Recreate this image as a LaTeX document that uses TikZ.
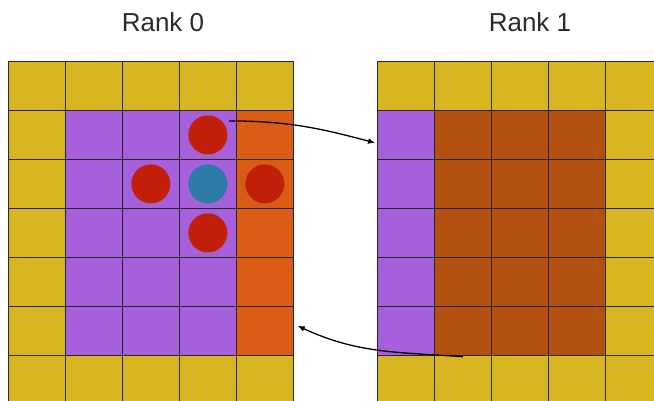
\documentclass[tikz,border=0pt]{standalone}
\usepackage{fontspec}
\setmainfont{Liberation Sans}
\usepackage{xcolor}
\usetikzlibrary{arrows.meta,shadows}

\definecolor{gold}{HTML}{D7B621}
\definecolor{lilac}{HTML}{A660DC}
\definecolor{flame}{HTML}{DA5C14}
\definecolor{rust}{HTML}{B4500F}
\definecolor{ballred}{HTML}{C11F0A}
\definecolor{ballblue}{HTML}{2E7BAA}
\definecolor{inkgray}{HTML}{2B2B2B}

\begin{document}
\begin{tikzpicture}[
    x=1pt, y=-1pt,
    cell/.style={draw=black!85, line width=0.7pt, anchor=north west, inner sep=0pt,
                 minimum width=57pt, minimum height=49pt},
    ball/.style={circle, inner sep=0pt, minimum size=39pt, fill=ballred,
                 drop shadow={shadow xshift=0pt, shadow yshift=-1.5pt, opacity=0.35}},
    title/.style={anchor=base, text=inkgray, font=\fontsize{26}{30}\selectfont},
    link/.style={-{Latex[length=7pt,width=6pt]}, line width=1.3pt, black}
  ]
    \useasboundingbox (0,0) rectangle (654,400);
    \clip (0,0) rectangle (654,400);

    % left block: halo ring in gold, interior lilac, last column flame
    \foreach \row in {0,...,6}
      \foreach \col in {0,...,4} {
        \def\cellcol{gold}
        \ifnum\row>0 \ifnum\row<6
          \ifnum\col>0 \def\cellcol{lilac}\fi
          \ifnum\col=4 \def\cellcol{flame}\fi
        \fi\fi
        \node[cell, fill=\cellcol] (L-\row-\col) at (8+57*\col, 61+49*\row) {};
      }

    % right block: received column lilac, interior rust
    \foreach \row in {0,...,6}
      \foreach \col in {0,...,4} {
        \def\cellcol{gold}
        \ifnum\row>0 \ifnum\row<6
          \ifnum\col<4 \def\cellcol{rust}\fi
          \ifnum\col=0 \def\cellcol{lilac}\fi
        \fi\fi
        \node[cell, fill=\cellcol] (R-\row-\col) at (377+57*\col, 61+49*\row) {};
      }

    % stencil
    \node[ball] (ball-n) at (L-1-3) {};
    \node[ball] (ball-w) at (L-2-2) {};
    \node[ball, fill=ballblue] (ball-c) at (L-2-3) {};
    \node[ball] (ball-e) at (L-2-4) {};
    \node[ball] (ball-s) at (L-3-3) {};

    \node[title] (rank0) at (163,31) {Rank 0};
    \node[title] (rank1) at (530,31) {Rank 1};

    \draw[link] ([xshift=7pt]ball-n.north east) to[out=0, in=165] ([xshift=-2pt, yshift=-8pt]R-1-0.west);
    \draw[link] ([yshift=-1pt]R-5-1.south) to[out=176, in=-25] ([xshift=4pt, yshift=5pt]L-5-4.east);
\end{tikzpicture}
\end{document}
